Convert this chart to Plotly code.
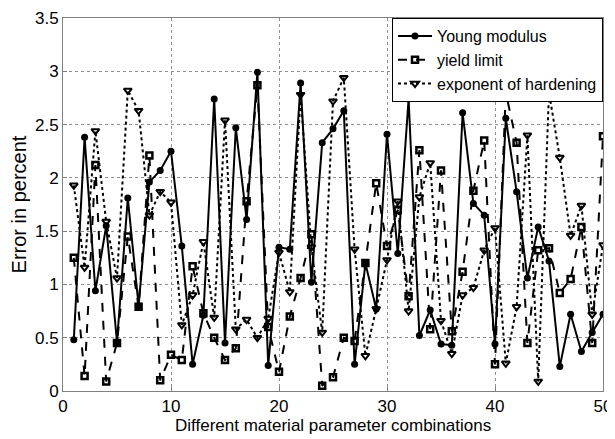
import plotly.graph_objects as go

combos = list(range(1, 51))

young_modulus = [0.48, 2.38, 0.94, 1.55, 0.46, 1.81, 0.80, 1.96, 2.07, 2.25,
                 1.36, 0.25, 0.71, 2.74, 0.45, 2.47, 1.61, 2.99, 0.24, 1.35,
                 1.33, 2.89, 1.02, 2.33, 2.46, 2.63, 0.25, 1.20, 0.77, 2.41,
                 1.29, 2.74, 0.52, 0.76, 0.44, 0.43, 2.61, 1.76, 1.65, 0.44,
                 2.56, 1.87, 1.06, 1.54, 1.22, 0.23, 0.72, 0.37, 0.55, 0.72]

yield_limit = [1.25, 0.14, 2.12, 0.09, 0.45, 1.45, 0.79, 2.21, 0.10, 0.34,
               0.29, 1.17, 0.73, 0.50, 0.29, 0.40, 1.78, 2.87, 0.60, 0.18,
               0.70, 1.06, 1.47, 0.05, 0.13, 0.50, 0.47, 1.20, 1.95, 1.36,
               1.70, 0.89, 2.26, 0.58, 2.07, 0.56, 1.12, 1.88, 2.35, 0.25,
               2.80, 2.33, 0.45, 1.32, 1.34, 0.92, 1.05, 1.54, 0.45, 2.39]

exponent_hardening = [1.93, 1.16, 2.44, 1.59, 1.06, 2.82, 2.63, 1.65, 1.87, 1.77,
                      0.62, 0.90, 1.40, 0.69, 2.54, 0.58, 0.67, 0.50, 0.68, 1.30,
                      0.93, 2.78, 1.35, 0.55, 2.72, 2.94, 1.33, 0.33, 0.77, 1.23,
                      1.78, 0.75, 1.82, 2.14, 0.66, 0.35, 0.90, 0.97, 1.32, 1.53,
                      0.26, 0.79, 2.40, 0.09, 2.80, 2.19, 1.46, 1.74, 0.72, 1.37]

x_ticks = [0, 10, 20, 30, 40, 50]
y_ticks = [0, 0.5, 1, 1.5, 2, 2.5, 3, 3.5]

font = "Liberation Sans, Arial, sans-serif"

fig = go.Figure()
fig.add_trace(go.Scatter(x=combos, y=young_modulus, mode="lines+markers",
                         name="Young modulus",
                         line=dict(color="black", width=2),
                         marker=dict(symbol="circle", size=7, color="black")))
fig.add_trace(go.Scatter(x=combos, y=yield_limit, mode="lines+markers",
                         name="yield limit",
                         line=dict(color="black", width=2, dash="dash"),
                         marker=dict(symbol="square-open", size=6, color="black",
                                     line=dict(width=2.5, color="black"))))
fig.add_trace(go.Scatter(x=combos, y=exponent_hardening, mode="lines+markers",
                         name="exponent of hardening",
                         line=dict(color="black", width=2, dash="dot"),
                         marker=dict(symbol="triangle-down-open", size=7, color="black",
                                     line=dict(width=2, color="black"))))

# page body has an 8px margin, so the figure is a bit smaller than the window
fig.update_layout(
    width=607, height=434,
    margin=dict(l=55, r=12, t=10, b=51),
    paper_bgcolor="white", plot_bgcolor="white",
    font=dict(family=font, size=17, color="black"),
    legend=dict(x=1, y=1, xanchor="right", yanchor="top",
                bgcolor="white", bordercolor="black", borderwidth=1,
                font=dict(size=16), itemwidth=34, tracegroupgap=0),
)
# x label as an annotation so it sits just under the tick labels
fig.add_annotation(text="Different material parameter combinations",
                   xref="paper", yref="paper", x=0.5, y=0,
                   xanchor="center", yanchor="top", yshift=-23,
                   showarrow=False, font=dict(size=17))
fig.update_xaxes(range=[0, 50], tickvals=x_ticks, showgrid=True,
                 gridcolor="#909090", griddash="dot", gridwidth=1,
                 showline=True, mirror=True, linecolor="#808080", linewidth=1,
                 zeroline=False, ticks="inside", ticklen=4, tickcolor="#808080",
                 ticklabeloverflow="allow", automargin=False)
fig.update_yaxes(range=[0, 3.5], tickvals=y_ticks, showgrid=True,
                 gridcolor="#909090", griddash="dot", gridwidth=1,
                 showline=True, mirror=True, linecolor="#808080", linewidth=1,
                 zeroline=False, ticks="inside", ticklen=4, tickcolor="#808080",
                 ticklabeloverflow="allow", automargin=False,
                 title=dict(text="Error in percent", standoff=4))

fig.write_html("out.html")
